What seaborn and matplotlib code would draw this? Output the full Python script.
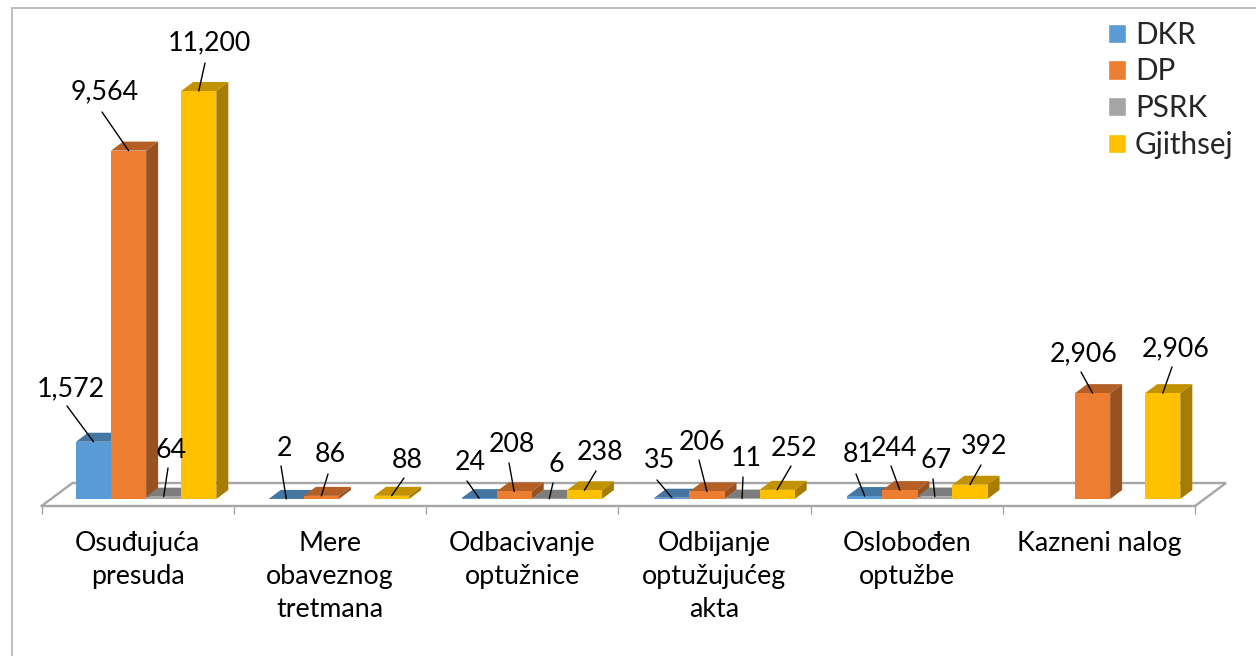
import numpy as np
import pandas as pd
import seaborn as sns
import matplotlib
matplotlib.use("Agg")
import matplotlib.pyplot as plt
from matplotlib.patches import Polygon, Rectangle

# ---- data ----
categories = ["Osuđujuća\npresuda", "Mere\nobaveznog\ntretmana", "Odbacivanje\noptužnice",
              "Odbijanje\noptužujućeg\nakta", "Oslobođen\noptužbe", "Kazneni nalog"]
series_names = ["DKR", "DP", "PSRK", "Gjithsej"]
dkr = [1572, 2, 24, 35, 81, np.nan]
dp = [9564, 86, 208, 206, 244, 2906]
psrk = [64, np.nan, 6, 11, 67, np.nan]
gjithsej = [11200, 88, 238, 252, 392, 2906]
colors = ["#5B9BD5", "#ED7D31", "#A5A5A5", "#FFC000"]

# ---- layout (pixels of the 1256x656 image) ----
W, H = 1256, 656
AX_L, AX_R = 41.5, 1195.0      # category axis extent
AX_BOTTOM = 506.0              # front floor edge
BASE_Y = 499.0                 # y pixel of value 0
PX_PER_UNIT = 408.0 / 11200.0
DEPTH_X, DEPTH_Y = 12.0, 9.0   # 3-D bar depth
FLOOR_DX, FLOOR_DY = 31.0, 23.0
BAR_SHIFT = 8.5                # bars sit a little right of category centre
GROUP_PITCH = 192.8            # bar groups are spaced a touch wider than the ticks
FONT = ["Lato", "DejaVu Sans"]
FS = 19.3
LEGEND_FS = 21.3
LABEL_DY = 2.0
GRAY = "#A6A6A6"

# label centres and leader start points, pixel coordinates, in drawing order
label_px = {
    "DKR": [(71, 387), (285, 447), (470, 460), (660, 458), (858, 453), None],
    "DP": [(105, 90), (330, 453), (512, 442), (702, 441), (894, 447), (1084, 352)],
    "PSRK": [(171, 448), None, (556, 463), (746, 457), (936, 458), None],
    "Gjithsej": [(209, 41), (407, 458), (600, 450), (794, 446), (984, 444), (1176, 347)],
}
leader_px = {
    "DKR": [(67, 406), (281, 466), (467, 481), (657, 480), (856, 474), None],
    "DP": [(102, 112), (328, 474), (509, 463), (699, 460), (891, 466), (1081, 372)],
    "PSRK": [(168, 468), None, (553, 483), (743, 477), (933, 479), None],
    "Gjithsej": [(205, 63), (404, 478), (596, 471), (791, 466), (981, 465), (1172, 367)],
}

sns.set_theme(style="white")
plt.rcParams["font.family"] = FONT

fig = plt.figure(figsize=(W / 100, H / 100), dpi=100, facecolor="white")
ax = fig.add_axes([AX_L / W, 1 - AX_BOTTOM / H, (AX_R - AX_L) / W, AX_BOTTOM / H])
ax.patch.set_alpha(0)

unit_x = (AX_R - AX_L) / 6.0
px2x = 1.0 / unit_x
px2y = 1.0 / PX_PER_UNIT

n = len(categories)
pos = np.arange(n) * GROUP_PITCH * px2x + BAR_SHIFT * px2x
df = pd.DataFrame({
    "pos": np.tile(pos, 4),
    "series": np.repeat(series_names, n),
    "value": np.concatenate([dkr, dp, psrk, gjithsej]),
})
sns.barplot(data=df, x="pos", y="value", hue="series", hue_order=series_names,
            palette=colors, native_scale=True, width=0.728, dodge=True,
            saturation=1, ax=ax, legend=True, gap=0)

ax.set_xlim(-0.5, n - 0.5)
ax.set_ylim(-(AX_BOTTOM - BASE_Y) * px2y, BASE_Y * px2y)


def shade(color, k):
    return tuple(c * k for c in matplotlib.colors.to_rgb(color))


# floor: back edge and side edges drawn behind the bars
x0, x1 = ax.get_xlim()
y_front = ax.get_ylim()[0]
y_back = y_front + FLOOR_DY * px2y
fdx = FLOOR_DX * px2x
ax.plot([x0, x0 + fdx, x1 + fdx, x1], [y_front, y_back, y_back, y_front],
        color=GRAY, lw=1.7, zorder=0.5, clip_on=False, solid_joinstyle="miter")

# 3-D faces derived from every bar drawn by seaborn
bars = [p for c in ax.containers for p in c.patches if np.isfinite(p.get_height())]
bars.sort(key=lambda p: p.get_x())
ddx, ddy = DEPTH_X * px2x, DEPTH_Y * px2y
for i, p in enumerate(bars):
    z = 2 + i * 0.1
    bx, bw, bh = p.get_x(), p.get_width(), p.get_height()
    col = p.get_facecolor()[:3]
    top = Polygon([(bx, bh), (bx + ddx, bh + ddy), (bx + bw + ddx, bh + ddy), (bx + bw, bh)],
                  closed=True, fc=shade(col, 0.76), ec="none", zorder=z, clip_on=False)
    side = Polygon([(bx + bw, 0), (bx + bw + ddx, ddy), (bx + bw + ddx, bh + ddy), (bx + bw, bh)],
                   closed=True, fc=shade(col, 0.65), ec="none", zorder=z, clip_on=False)
    ax.add_patch(top)
    ax.add_patch(side)
    p.set_zorder(z + 0.01)
    p.set_edgecolor("none")

# data labels with leader lines
for si, name in enumerate(series_names):
    values = df.loc[df["series"] == name, "value"].to_numpy()
    finite = [p for p in ax.containers[si].patches if np.isfinite(p.get_height())]
    j = 0
    for g, v in enumerate(values):
        if not np.isfinite(v):
            continue
        p = finite[j]
        j += 1
        mid = p.get_x() + p.get_width() / 2
        lx, ly = label_px[name][g]
        sx, sy = leader_px[name][g]
        ax.annotate("", xy=(mid, v), xytext=(sx, H - sy), textcoords="figure pixels",
                    arrowprops=dict(arrowstyle="-", color="black", lw=1.0, shrinkA=0, shrinkB=0),
                    zorder=10, annotation_clip=False)
        ax.annotate(f"{int(v):,}", xy=(mid, v), xytext=(lx, H - ly - LABEL_DY), textcoords="figure pixels",
                    ha="center", va="center", fontsize=FS, color="black", family=FONT,
                    zorder=11, annotation_clip=False)

# axes: bottom edge, boundary ticks, centred category labels
for s in ["top", "left", "right"]:
    ax.spines[s].set_visible(False)
ax.spines["bottom"].set_color(GRAY)
ax.spines["bottom"].set_linewidth(1.7)
ax.set_xlabel("")
ax.set_ylabel("")
ax.set_yticks([])
ax.set_xticks(np.arange(n))
ax.set_xticklabels(categories, fontsize=FS, color="black", family=FONT, linespacing=1.39)
ax.set_xticks(np.arange(n + 1) - 0.5, minor=True)
ax.tick_params(axis="x", which="major", length=0, pad=18)
ax.tick_params(axis="x", which="minor", length=6, width=1.0, color=GRAY, bottom=True)

# legend
handles, labels = ax.get_legend_handles_labels()
ax.legend(handles, labels, loc="upper left",
          bbox_to_anchor=(1099 / W, 1 - 12 / H), bbox_transform=fig.transFigure,
          frameon=False, fontsize=LEGEND_FS, handlelength=0.62, handleheight=0.62,
          handletextpad=0.3, labelspacing=0.29, borderpad=0.3, borderaxespad=0)

# chart frame
fig.add_artist(Rectangle((11.5 / W, -0.05), 1.2, 1.05 - 7.5 / H, transform=fig.transFigure,
                         fc="none", ec="#BFBFBF", lw=1.4, clip_on=True))

fig.savefig("out.png", dpi=100, facecolor="white")
